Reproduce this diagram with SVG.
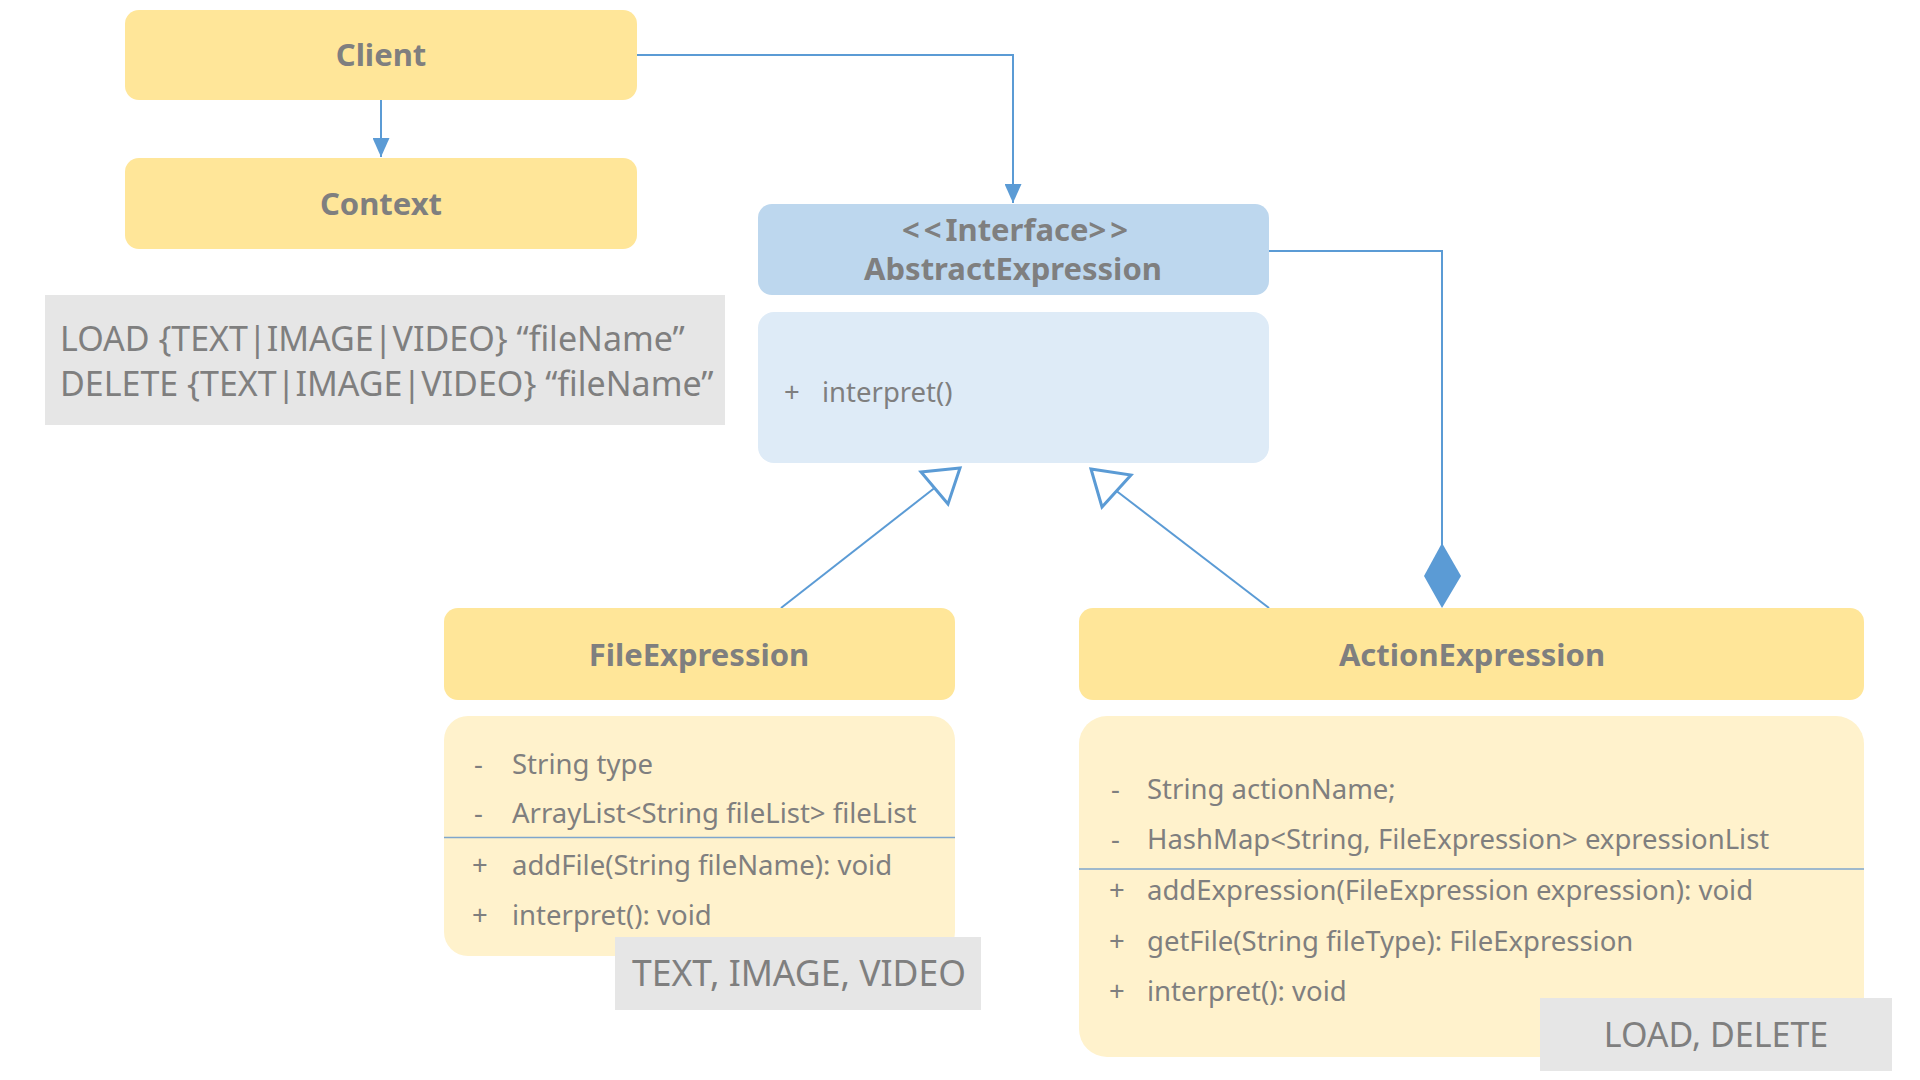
<svg xmlns="http://www.w3.org/2000/svg" width="1920" height="1080" viewBox="0 0 1920 1080">
<defs>
<style>
.hy{fill:#FFE699}
.by{fill:#FFF2CC}
.hb{fill:#BDD7EE}
.bb{fill:#DEEBF7}
.gr{fill:#E6E6E6}
.t{font-family:"Noto Sans","Liberation Sans",sans-serif;fill:#7F7F7F}
.title{font-size:31px;font-weight:bold;text-anchor:middle}
.m{font-size:27.5px}
.g{font-size:34px}
.g2{font-size:35.5px}
.c{fill:none;stroke:#5B9BD5;stroke-width:2}
.sep{stroke:#7FA6CC;stroke-width:1.3}
</style>
<marker id="arr" viewBox="0 0 10 10" refX="10" refY="5" markerWidth="19" markerHeight="17" markerUnits="userSpaceOnUse" orient="auto" preserveAspectRatio="none">
<path d="M0,0 L10,5 L0,10 Z" fill="#5B9BD5"/>
</marker>
</defs>
<rect width="1920" height="1080" fill="#FFFFFF"/>

<g id="connectors">
<line class="c" x1="381" y1="100" x2="381" y2="157" marker-end="url(#arr)"/>
<path class="c" d="M637 55 H1013 V203" marker-end="url(#arr)"/>
<path class="c" d="M1269 251 H1442 V545"/>
<polygon points="1442,543 1461,576 1442,608 1424,576" fill="#5B9BD5"/>
<line class="c" x1="781" y1="608" x2="934.5" y2="488"/>
<polygon points="960,468 921,472 948,504" fill="#FFFFFF" stroke="#5B9BD5" stroke-width="3"/>
<line class="c" x1="1269" y1="608" x2="1116.5" y2="491"/>
<polygon points="1091,469 1131,475 1102,507" fill="#FFFFFF" stroke="#5B9BD5" stroke-width="3"/>
</g>

<g id="client">
<rect class="hy" x="125" y="10" width="512" height="90" rx="14"/>
<text class="t title" x="381" y="66">Client</text>
</g>

<g id="context">
<rect class="hy" x="125" y="158" width="512" height="91" rx="14"/>
<text class="t title" x="381" y="215">Context</text>
</g>

<g id="grammar-note">
<rect class="gr" x="45" y="295" width="680" height="130"/>
<text class="t g" x="60" y="351">LOAD {TEXT|IMAGE|VIDEO} “fileName”</text>
<text class="t g" x="60" y="396">DELETE {TEXT|IMAGE|VIDEO} “fileName”</text>
</g>

<g id="abstract-expression">
<rect class="hb" x="758" y="204" width="511" height="91" rx="14"/>
<text class="t title" x="1015" y="241"><tspan letter-spacing="4">&lt;&lt;</tspan>Interface<tspan letter-spacing="4">&gt;</tspan>&gt;</text>
<text class="t title" x="1013" y="280">AbstractExpression</text>
<rect class="bb" x="758" y="312" width="511" height="151" rx="16"/>
<text class="t m" x="784" y="402">+</text>
<text class="t m" x="822" y="402">interpret()</text>
</g>

<g id="file-expression">
<rect class="hy" x="444" y="608" width="511" height="92" rx="14"/>
<text class="t title" x="699" y="666">FileExpression</text>
<rect class="by" x="444" y="716" width="511" height="240" rx="24"/>
<text class="t m" x="474" y="774">-</text>
<text class="t m" x="512" y="774">String type</text>
<text class="t m" x="474" y="823">-</text>
<text class="t m" x="512" y="823">ArrayList&lt;String fileList&gt; fileList</text>
<line class="sep" x1="444" y1="837.5" x2="955" y2="837.5"/>
<text class="t m" x="472" y="875">+</text>
<text class="t m" x="512" y="875">addFile(String fileName): void</text>
<text class="t m" x="472" y="925">+</text>
<text class="t m" x="512" y="925">interpret(): void</text>
</g>

<g id="file-types-note">
<rect class="gr" x="615" y="937" width="366" height="73"/>
<text class="t g2" x="632" y="986">TEXT, IMAGE, VIDEO</text>
</g>

<g id="action-expression">
<rect class="hy" x="1079" y="608" width="785" height="92" rx="14"/>
<text class="t title" x="1472" y="666">ActionExpression</text>
<rect class="by" x="1079" y="716" width="785" height="341" rx="28"/>
<text class="t m" x="1111" y="799">-</text>
<text class="t m" x="1147" y="799">String actionName;</text>
<text class="t m" x="1111" y="849">-</text>
<text class="t m" x="1147" y="849">HashMap&lt;String, FileExpression&gt; expressionList</text>
<line class="sep" x1="1079" y1="869" x2="1864" y2="869"/>
<text class="t m" x="1109" y="900">+</text>
<text class="t m" x="1147" y="900">addExpression(FileExpression expression): void</text>
<text class="t m" x="1109" y="951">+</text>
<text class="t m" x="1147" y="951">getFile(String fileType): FileExpression</text>
<text class="t m" x="1109" y="1001">+</text>
<text class="t m" x="1147" y="1001">interpret(): void</text>
</g>

<g id="actions-note">
<rect class="gr" x="1540" y="998" width="352" height="73"/>
<text class="t g" x="1716" y="1047" text-anchor="middle">LOAD, DELETE</text>
</g>
</svg>
